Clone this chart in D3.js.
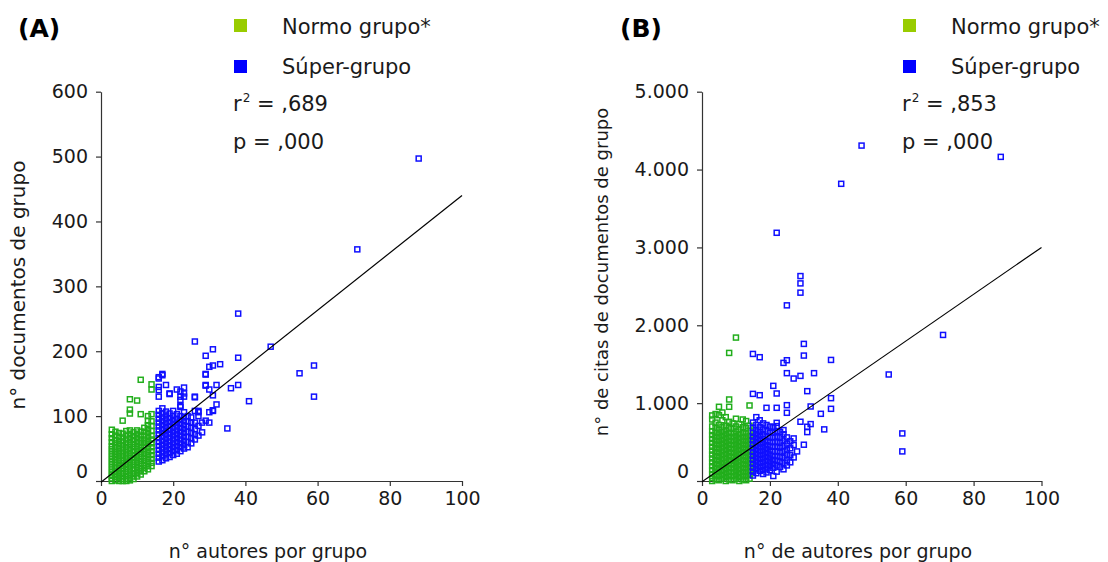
<!DOCTYPE html>
<html><head><meta charset="utf-8">
<script src="https://cdn.jsdelivr.net/npm/d3@7"></script>
<style>
body{margin:0;background:#fff}
svg{display:block}
text{font-family:"DejaVu Sans",Verdana,sans-serif;fill:#1a1a1a}
</style>
</head><body>
<svg id="c" width="1108" height="562"></svg>
<script>
// ---------------- DATA ----------------
const seriesNames = ["Normo grupo*", "Súper-grupo"];
const xTicks = [0, 20, 40, 60, 80, 100];
const xTickLabels = ["0", "20", "40", "60", "80", "100"];
const yTicksA = [0, 100, 200, 300, 400, 500, 600];
const yTickLabelsA = ["0", "100", "200", "300", "400", "500", "600"];
const yTicksB = [0, 1000, 2000, 3000, 4000, 5000];
const yTickLabelsB = ["0", "1.000", "2.000", "3.000", "4.000", "5.000"];
const statsA = [",689", ",000"];
const statsB = [",853", ",000"];
const fitA = [-2, 4.42];   // intercept, slope
const fitB = [-10, 30.1];

// Panel A: n° autores (x) vs n° documentos (y), grouped by author count
const normoA = [
  [3, [0,4,9,14,19,24,29,34,39,44,49,54,60,66,72,79]],
  [4, [1,6,11,16,21,27,32,37,42,47,52,58,63,70,76]],
  [5, [0,5,10,15,20,25,31,36,41,46,51,57,62,68,74]],
  [6, [0,3,7,12,18,23,28,33,39,44,50,55,61,67,73,93]],
  [7, [0,3,8,14,19,25,30,36,41,47,52,58,64,70,77]],
  [8, [1,5,10,16,21,27,32,38,43,49,55,60,66,72,78,104,110,126]],
  [9, [3,7,12,18,24,29,35,40,46,52,57,63,69,75]],
  [10, [7,12,17,22,28,33,38,44,49,54,60,66,72,78,124]],
  [11, [10,15,20,26,31,37,42,48,53,59,64,70,76,103,156]],
  [12, [15,20,25,31,36,42,47,53,59,64,70,76,82]],
  [13, [18,23,29,34,40,45,51,57,62,68,74,80,86,93,100]],
  [14, [23,28,34,40,46,52,58,64,70,77,85,92,103,141,149]]
];
const superA = [
  [16, [30,36,42,48,54,60,66,72,78,84,90,96,102,108,130,140,145,158,160]],
  [17, [32,38,44,50,56,62,68,74,80,86,92,98,104,112,163,165]],
  [18, [35,41,47,53,59,65,71,77,83,89,95,101,107,148]],
  [19, [37,43,49,55,61,67,73,79,85,91,97,104,134,135]],
  [20, [40,46,52,58,64,70,76,82,88,94,100,108]],
  [21, [42,48,54,60,66,72,78,84,90,96,103,141]],
  [22, [46,52,58,64,70,76,82,88,94,100,114,116,125,130,138]],
  [23, [50,56,62,68,74,80,86,92,98,106,130,135,144]],
  [24, [52,60,68,76,84,92,100]],
  [25, [58,66,74,82,90,98]],
  [26, [64,72,80,90,108,129,130,215]],
  [27, [70,85,100,106,108]],
  [28, [75,90]],
  [29, [93,147,148,164,165,193]],
  [30, [90,106,141,176]],
  [31, [108,109,132,178,203]],
  [32, [118,148]],
  [33, [180]],
  [35, [81]],
  [36, [143]],
  [38, [148,190,258]],
  [41, [123]],
  [47, [207]],
  [55, [166]],
  [59, [130,178]],
  [71, [357]],
  [88, [497]]
];

// Panel B: n° de autores (x) vs n° de citas (y)
const normoB = [
  [3, [0,40,90,140,190,240,290,340,390,440,490,540,590,640,700,790,842]],
  [4, [20,70,120,170,220,270,320,370,420,470,520,570,620,680,750,860]],
  [5, [10,60,110,160,210,260,310,360,410,460,510,560,610,660,720,846,953]],
  [6, [30,80,130,180,230,280,330,380,430,480,530,580,630,690,780,880]],
  [7, [0,50,100,150,200,250,300,350,400,450,500,550,600,650,710,820]],
  [8, [20,70,120,170,220,270,320,370,420,470,520,570,620,680,760,953,1047,1645]],
  [9, [10,60,110,160,210,260,310,360,410,460,510,560,610,670,740]],
  [10, [30,80,130,180,230,280,330,380,430,480,530,580,630,700,800,1842]],
  [11, [0,50,100,150,200,250,300,350,400,450,500,550,600,660,730]],
  [12, [20,70,120,170,220,270,320,370,420,470,520,570,620,690,790]],
  [13, [10,60,110,160,210,260,310,360,410,460,510,560,610,680,770]],
  [14, [30,80,130,180,230,280,330,380,430,480,530,580,640,710,970]]
];
const superB = [
  [15, [70,120,170,220,270,320,370,420,470,520,570,620,680,750,1119,1632]],
  [16, [100,150,200,250,300,350,400,450,500,550,600,650,720,820]],
  [17, [130,180,230,280,330,380,430,480,530,580,630,690,780,1102,1590]],
  [18, [90,140,190,240,290,340,390,440,490,540,600,660,740]],
  [19, [110,160,210,260,310,360,410,460,510,570,640,720,940]],
  [20, [140,190,240,290,340,390,440,500,560,620,700]],
  [21, [64,170,220,270,320,380,440,500,560,620,690,1222]],
  [22, [120,200,260,320,380,440,500,570,640,705,747,940,1124,3188]],
  [23, [180,250,310,370,430,490,560,630]],
  [24, [150,230,300,380,450,520,600,654,1517]],
  [25, [200,265,340,401,480,560,876,974,1385,1551,2256]],
  [26, [240,330,420,510]],
  [27, [303,462,547,1316]],
  [28, [380]],
  [29, [761,1350,2419,2538,2632]],
  [30, [466,1611,1761]],
  [31, [628,697,1154]],
  [32, [731,957]],
  [33, [1385]],
  [35, [863]],
  [36, [663]],
  [38, [927,1064,1555]],
  [41, [3817]],
  [47, [4308]],
  [55, [1368]],
  [59, [380,611]],
  [71, [1876]],
  [88, [4163]]
];

// ---------------- STYLE / LAYOUT ----------------
const colNormoPt = "#22ae1c", colSuperPt = "#1010ff";
const colNormoLeg = "#99cc00", colSuperLeg = "#0000ff";
const axisCol = "#333333";

const panels = [
  {label:"(A)", labelX:18, normo:normoA, sup:superA, xr:[101,462], yr:[481,91.7],
   yDom:[0,600], yTicks:yTicksA, yLabels:yTickLabelsA, fit:fitA, stats:statsA,
   legX:234, xTitle:"n° autores por grupo", xTitleX:268,
   yTitle:"n° documentos de grupo", yTitleX:25, yTitleY:285, yTitleSize:20},
  {label:"(B)", labelX:620, normo:normoB, sup:superB, xr:[702,1041.5], yr:[481,91.7],
   yDom:[0,5000], yTicks:yTicksB, yLabels:yTickLabelsB, fit:fitB, stats:statsB,
   legX:903, xTitle:"n° de autores por grupo", xTitleX:858,
   yTitle:"n° de citas de documentos de grupo", yTitleX:608, yTitleY:272, yTitleSize:18}
];

const svg = d3.select("#c");
const flat = cols => cols.flatMap(([x, ys]) => ys.map(y => [x, y]));

panels.forEach(p => {
  const x = d3.scaleLinear().domain([0,100]).range(p.xr);
  const y = d3.scaleLinear().domain(p.yDom).range(p.yr);
  const g = svg.append("g");

  // axes
  const xa = g.append("g").attr("transform", `translate(0,${p.yr[0]})`)
    .call(d3.axisBottom(x).tickValues(xTicks).tickFormat((d,i)=>xTickLabels[i]).tickSize(5).tickSizeOuter(0));
  const ya = g.append("g").attr("transform", `translate(${p.xr[0]},0)`)
    .call(d3.axisLeft(y).tickValues(p.yTicks).tickFormat((d,i)=>p.yLabels[i]).tickSize(5).tickSizeOuter(0));
  [xa, ya].forEach(a => {
    a.selectAll("path,line").attr("stroke", axisCol).attr("stroke-width", 1.2);
    a.selectAll("text").attr("font-family", '"DejaVu Sans",Verdana,sans-serif')
      .attr("font-size", 19).attr("fill", "#1a1a1a");
  });
  xa.selectAll("text").attr("dy", "0.95em").attr("y", 6);
  ya.selectAll("text").attr("x", -13);
  ya.selectAll(".tick").filter(d => d === 0).select("text").attr("dy", "-0.2em");

  // points
  const drawPts = (data, col) => g.append("g").selectAll("rect").data(flat(data)).join("rect")
    .attr("x", d => x(d[0]) - 2.5).attr("y", d => y(d[1]) - 2.5)
    .attr("width", 5).attr("height", 5)
    .attr("fill", "none").attr("stroke", col).attr("stroke-width", 1.5);
  drawPts(p.normo, colNormoPt);
  drawPts(p.sup, colSuperPt);

  // regression line
  g.append("line")
    .attr("x1", x(0)).attr("y1", y(p.fit[0]))
    .attr("x2", x(100)).attr("y2", y(p.fit[0] + p.fit[1]*100))
    .attr("stroke", "#000").attr("stroke-width", 1.2);

  // panel label
  g.append("text").attr("x", p.labelX).attr("y", 37).attr("font-size", 25)
    .attr("font-weight", "bold").style("fill", "#000").text(p.label);

  // legend
  [[colNormoLeg, seriesNames[0], 19, 33.5], [colSuperLeg, seriesNames[1], 60, 73.5]].forEach(([c, t, sy, by]) => {
    g.append("rect").attr("x", p.legX).attr("y", sy).attr("width", 13).attr("height", 13).attr("fill", c);
    g.append("text").attr("x", p.legX + 48).attr("y", by).attr("font-size", 21).text(t);
  });
  const r2 = g.append("text").attr("x", p.legX - 1).attr("y", 111).attr("font-size", 21);
  r2.append("tspan").text("r");
  r2.append("tspan").attr("font-size", 12).attr("dy", -9).attr("dx", 1).text("2");
  r2.append("tspan").attr("dy", 9).text("\u00a0=\u00a0" + p.stats[0]);
  g.append("text").attr("x", p.legX - 1).attr("y", 149).attr("font-size", 21)
    .text("p\u00a0=\u00a0" + p.stats[1]);

  // axis titles
  g.append("text").attr("x", p.xTitleX).attr("y", 558).attr("text-anchor", "middle")
    .attr("font-size", 19).text(p.xTitle);
  g.append("text").attr("transform", `translate(${p.yTitleX},${p.yTitleY}) rotate(-90)`)
    .attr("text-anchor", "middle").attr("font-size", p.yTitleSize).text(p.yTitle);
});
</script>
</body></html>
